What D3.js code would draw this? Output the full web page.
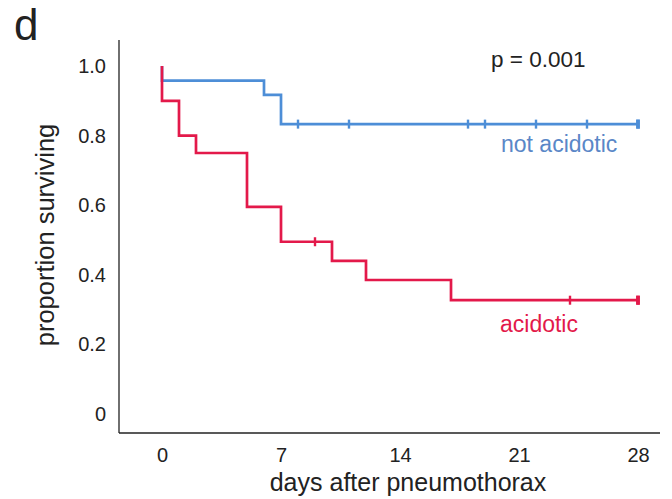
<!DOCTYPE html>
<html>
<head>
<meta charset="utf-8">
<script src="https://cdn.jsdelivr.net/npm/d3@7"></script>
<style>
  body { margin: 0; background: #fff; }
  text { font-family: "Liberation Sans", Arial, sans-serif; fill: #222; }
</style>
</head>
<body>
<div id="canvas"></div>
<script>
// survival curves
const xTicks = [0, 7, 14, 21, 28];
const yTicks = [0, 0.2, 0.4, 0.6, 0.8, 1.0];
const yTickLabels = ["0", "0.2", "0.4", "0.6", "0.8", "1.0"];

const notAcidDays = [0, 0, 6, 7, 28];
const notAcidSurv = [1, 0.958, 0.917, 0.833, 0.833];
const notAcidCensor = [8, 11, 18, 19, 22, 25, 28, 28];

const acidDays = [0, 0, 1, 2, 5, 7, 10, 12, 17, 28];
const acidSurv = [1, 0.9, 0.8, 0.75, 0.595, 0.495, 0.44, 0.385, 0.327, 0.327];
const acidCensor = [9, 24, 28, 28];

const blue = "#4d8ed7";
const red = "#e3194a";

const width = 672, height = 499;
const svg = d3.select("#canvas").append("svg")
  .attr("width", width).attr("height", height);

const x = d3.scaleLinear().domain([0, 28]).range([162, 638]);
const y = d3.scaleLinear().domain([0, 1]).range([414, 66]);

// frame
svg.append("line").attr("x1", 119).attr("x2", 119).attr("y1", 40).attr("y2", 433)
  .attr("stroke", "#222").attr("stroke-width", 1.3);
svg.append("line").attr("x1", 119).attr("x2", 660).attr("y1", 433).attr("y2", 433)
  .attr("stroke", "#222").attr("stroke-width", 1.3);

// tick labels only, no tick lines
const xAxis = svg.append("g").attr("transform", "translate(0,440)")
  .call(d3.axisBottom(x).tickValues(xTicks).tickSize(0).tickPadding(8));
xAxis.select(".domain").remove();
xAxis.selectAll("text").style("font-size", "20px")
  .style("font-family", "Liberation Sans, Arial, sans-serif").attr("fill", "#222");

const yAxis = svg.append("g").attr("transform", "translate(106,0)")
  .call(d3.axisLeft(y).tickValues(yTicks).tickSize(0).tickPadding(0)
    .tickFormat((d, i) => yTickLabels[i]));
yAxis.select(".domain").remove();
yAxis.selectAll("text").style("font-size", "20px")
  .style("font-family", "Liberation Sans, Arial, sans-serif").attr("fill", "#222");

const line = d3.line().x(d => x(d[0])).y(d => y(d[1])).curve(d3.curveStepAfter);

function drawCurve(days, surv, censor, color) {
  const pts = days.map((d, i) => [d, surv[i]]);
  svg.append("path").datum(pts).attr("d", line)
    .attr("fill", "none").attr("stroke", color).attr("stroke-width", 2.7);
  // censor marks sit on the step value at that time
  const at = t => {
    let v = surv[0];
    days.forEach((d, i) => { if (d <= t) v = surv[i]; });
    return v;
  };
  svg.selectAll(null).data(censor).enter().append("line")
    .attr("x1", d => x(d)).attr("x2", d => x(d))
    .attr("y1", d => y(at(d)) - 4.5).attr("y2", d => y(at(d)) + 4.5)
    .attr("stroke", color).attr("stroke-width", (d, i) => d === 28 ? 3.6 : 2.4);
}

drawCurve(notAcidDays, notAcidSurv, notAcidCensor, blue);
drawCurve(acidDays, acidSurv, acidCensor, red);

// labels
svg.append("text").attr("x", 14).attr("y", 40).style("font-size", "44px").text("d");
svg.append("text").attr("x", 491).attr("y", 67).style("font-size", "22.5px").text("p = 0.001");
svg.append("text").attr("x", 501).attr("y", 152).style("font-size", "23px")
  .style("fill", "#5a87c7").text("not acidotic");
svg.append("text").attr("x", 500).attr("y", 332).style("font-size", "23px")
  .style("fill", red).text("acidotic");
svg.append("text").attr("x", 408).attr("y", 491).attr("text-anchor", "middle")
  .style("font-size", "25px").text("days after pneumothorax");
svg.append("text").attr("transform", "translate(54,235) rotate(-90)")
  .attr("text-anchor", "middle").style("font-size", "25.5px").text("proportion surviving");
</script>
</body>
</html>
